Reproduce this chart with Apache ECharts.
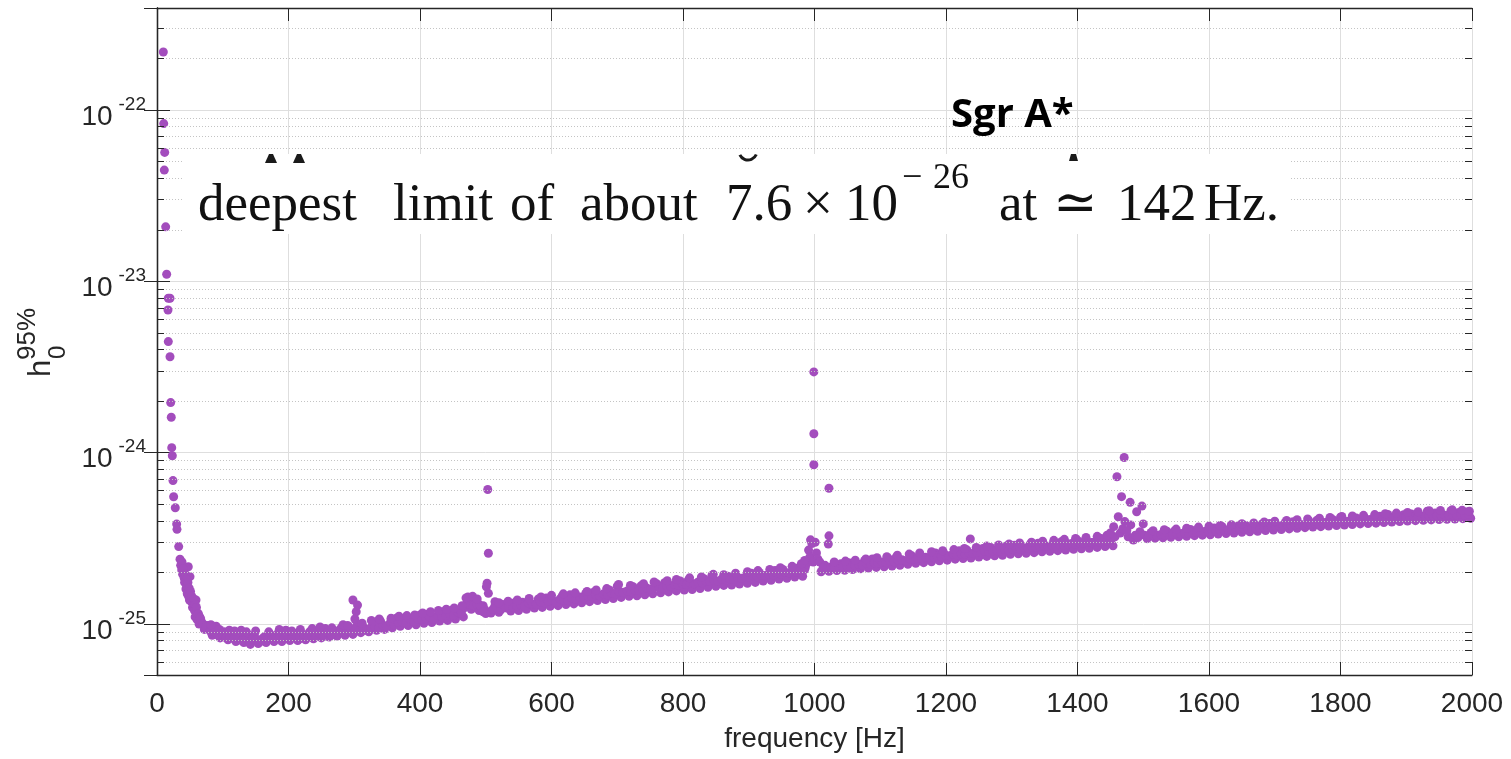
<!DOCTYPE html>
<html><head><meta charset="utf-8">
<script src="https://cdn.jsdelivr.net/npm/echarts@6/dist/echarts.min.js"></script>
<style>html,body{margin:0;padding:0;background:#fff}#c{width:1511px;height:759px}</style>
</head><body><div id="c"></div>
<script>
// h0 values are given (and plotted) in units of 1e-25; axis labels show the true powers of ten
const UNIT_EXP = -25;
const xTicks = [0, 200, 400, 600, 800, 1000, 1200, 1400, 1600, 1800, 2000];
const yDecades = [-25, -24, -23, -22];

const lowFreq = [[9.6,2180],[10.2,833],[11.7,566],[11.1,446],[13.2,208],[14.7,110],[17.2,79.7],[19.8,79.7],[16.7,68],[17.2,44.5],[19.8,36.3],[20.8,19.6],[21.7,16.1],[22.4,10.7],[23.3,9.6],[24.3,6.87],[25.3,5.53],[27.8,4.77],[29.9,3.83],[30.4,3.57],[33,2.83],[35,2.39],[36,2.2],[37.6,2.07],[39,1.95],[41.5,1.85],[42,1.75],[44,1.6],[45.3,1.65],[46,1.5],[47.6,2.16],[48,1.45],[50.2,1.89],[49.3,1.38],[52,1.35],[54,1.25],[55.3,1.31],[57,1.2],[58,1.1],[59.3,1.38],[60.3,1.155],[61,1.06],[62,1.12],[64,1.0],[38,2.3],[40,2.1],[43,1.95],[45,1.82],[47,1.75],[49,1.62],[51,1.55],[53,1.45],[56,1.4],[58,1.3],[60,1.25],[63,1.15],[65,1.1],[67,1.05],[70,1.0],[74,0.98]];

const bandA = [[66,1.08],[72,0.93],[78,0.98],[84,0.86],[90,0.97],[96,0.83],[102,0.90],[108,0.81],[114,0.85],[120,0.79],[126,0.88],[128,0.92],[132,0.78],[138,0.87],[142,0.76],[148,0.86],[154,0.77],[160,0.82],[166,0.78],[172,0.87],[178,0.79],[184,0.88],[190,0.79],[196,0.92],[202,0.80],[208,0.88],[214,0.80],[220,0.85],[226,0.81],[232,0.90],[238,0.82],[244,0.91],[250,0.83],[256,0.94],[262,0.84],[268,0.88],[274,0.85],[280,0.95],[286,0.86],[292,0.96],[298,0.87],[304,0.98],[310,0.89],[316,0.94],[322,0.90],[328,1.02],[334,0.92],[340,1.04],[346,0.93],[352,0.98],[358,0.95],[364,1.08],[370,0.97],[376,1.08],[382,0.98],[388,1.04],[394,0.99],[400,1.13],[406,1.01],[412,1.14],[418,1.02],[424,1.09],[430,1.04],[436,1.18],[442,1.05],[448,1.20],[454,1.07],[460,1.15],[466,1.10],[472,1.36],[478,1.22],[484,1.38],[490,1.20],[496,1.28],[500,1.15]];
const fillA = [[69,1.00],[75,0.96],[81,0.91],[87,0.90],[93,0.86],[99,0.87],[105,0.83],[111,0.84],[117,0.82],[123,0.84],[129,0.80],[135,0.82],[141,0.80],[145,0.82],[151,0.81],[157,0.79],[163,0.84],[169,0.81],[175,0.83],[181,0.82],[187,0.85],[193,0.82],[199,0.84],[205,0.83],[211,0.86],[217,0.82],[223,0.87],[229,0.84],[235,0.86],[241,0.85],[247,0.88],[253,0.86],[259,0.89],[265,0.86],[271,0.91],[277,0.88],[283,0.90],[289,0.91],[295,0.90],[301,0.93],[307,0.91],[313,0.96],[319,0.92],[325,0.95],[331,0.97],[337,0.95],[343,0.99],[349,0.97],[355,1.02],[361,0.99],[367,1.02],[373,1.03],[379,1.01],[385,1.06],[391,1.03],[397,1.07],[403,1.06],[409,1.08],[415,1.10],[421,1.06],[427,1.12],[433,1.10],[439,1.12],[445,1.15],[451,1.12],[457,1.18],[463,1.16],[469,1.25],[475,1.30],[481,1.28],[487,1.30],[493,1.24],[499,1.21]];

const spike300 = [[298,1.38],[305,1.29],[303,1.18],[301,1.07]];
const spike500 = [[503,6.1],[504,2.59],[502,1.73],[501,1.65],[504,1.51],[514,1.35],[473,1.44],[491,1.29],[496,1.18]];

const bandB = [[508,1.16],[514,1.28],[520,1.17],[526,1.30],[532,1.24],[538,1.19],[544,1.33],[550,1.20],[556,1.34],[562,1.22],[568,1.30],[574,1.24],[580,1.40],[586,1.25],[592,1.42],[598,1.27],[604,1.35],[610,1.28],[616,1.45],[622,1.30],[628,1.48],[634,1.31],[640,1.40],[646,1.33],[652,1.51],[658,1.35],[664,1.53],[670,1.37],[676,1.46],[682,1.39],[688,1.58],[694,1.41],[700,1.66],[706,1.43],[712,1.52],[718,1.45],[724,1.65],[730,1.46],[736,1.67],[742,1.48],[748,1.58],[754,1.50],[760,1.72],[766,1.52],[772,1.74],[778,1.54],[784,1.65],[790,1.56],[796,1.78],[802,1.58],[808,1.80],[814,1.59],[820,1.70],[826,1.61],[832,1.84],[838,1.64],[844,1.92],[850,1.66],[856,1.77],[862,1.68],[868,1.90],[874,1.69],[880,1.93],[886,1.71],[892,1.83],[898,1.73],[904,1.98],[910,1.75],[916,2.00],[922,1.78],[928,1.90],[934,1.80],[940,2.05],[946,1.83],[952,2.08],[958,1.85],[964,1.97],[970,1.88],[976,2.13],[982,1.90],[986,2.14]];
const fillB = [[511,1.22],[517,1.24],[523,1.21],[529,1.27],[535,1.26],[541,1.25],[547,1.28],[553,1.30],[559,1.27],[565,1.33],[571,1.31],[577,1.30],[583,1.35],[589,1.33],[595,1.36],[601,1.38],[607,1.34],[613,1.40],[619,1.38],[625,1.37],[631,1.42],[637,1.40],[643,1.44],[649,1.42],[655,1.46],[661,1.45],[667,1.48],[673,1.46],[679,1.50],[685,1.48],[691,1.52],[697,1.50],[703,1.54],[709,1.53],[715,1.56],[721,1.54],[727,1.58],[733,1.57],[739,1.59],[745,1.62],[751,1.60],[757,1.63],[763,1.65],[769,1.62],[775,1.67],[781,1.66],[787,1.70],[793,1.68],[799,1.72],[805,1.70],[811,1.74],[817,1.72],[823,1.76],[829,1.74],[835,1.78],[841,1.77],[847,1.80],[853,1.78],[859,1.83],[865,1.81],[871,1.84],[877,1.82],[883,1.87],[889,1.85],[895,1.88],[901,1.87],[907,1.91],[913,1.89],[919,1.93],[925,1.92],[931,1.95],[937,1.94],[943,1.98],[949,1.96],[955,2.00],[961,1.99],[967,2.03],[973,2.01],[979,2.05],[985,2.08]];

const spike1000 = [[999,29.6],[999,12.9],[999,8.5],[1001,3.0],[994,3.1],[996,2.95],[991,2.7],[993,2.46],[1003,2.6],[998,2.3],[1005,2.4],[1022,6.2],[1022,3.27],[1021,2.93],[988,2.25],[1008,2.3]];

const bandC = [[1010,2.02],[1016,2.20],[1022,2.03],[1028,2.12],[1034,2.05],[1040,2.25],[1046,2.06],[1052,2.28],[1058,2.08],[1064,2.18],[1070,2.10],[1076,2.34],[1082,2.12],[1088,2.40],[1094,2.14],[1100,2.26],[1106,2.16],[1112,2.42],[1118,2.18],[1124,2.45],[1130,2.20],[1136,2.34],[1142,2.23],[1148,2.50],[1154,2.26],[1160,2.53],[1166,2.28],[1172,2.42],[1178,2.31],[1184,2.60],[1190,2.34],[1196,2.62],[1202,2.36],[1208,2.50],[1214,2.39],[1220,2.68],[1226,2.41],[1232,2.70],[1237,3.14],[1238,2.43],[1244,2.58],[1250,2.46],[1256,2.76],[1262,2.48],[1268,2.80],[1274,2.50],[1280,2.66],[1286,2.52],[1292,2.85],[1298,2.55],[1304,2.88],[1310,2.57],[1316,2.72],[1322,2.59],[1328,2.92],[1334,2.61],[1340,2.96],[1346,2.64],[1352,2.80],[1358,2.66],[1364,3.00],[1370,2.68],[1376,3.03],[1382,2.70],[1388,2.88],[1394,2.73],[1400,3.08],[1406,2.75],[1412,3.10],[1418,2.77],[1424,2.95],[1430,2.80],[1436,3.16],[1442,2.83],[1448,3.20],[1454,2.86]];
const fillC = [[1013,2.12],[1019,2.10],[1025,2.15],[1031,2.13],[1037,2.16],[1043,2.14],[1049,2.19],[1055,2.17],[1061,2.21],[1067,2.23],[1073,2.20],[1079,2.26],[1085,2.24],[1091,2.28],[1097,2.27],[1103,2.30],[1109,2.28],[1115,2.33],[1121,2.31],[1127,2.35],[1133,2.37],[1139,2.34],[1145,2.40],[1151,2.38],[1157,2.42],[1163,2.41],[1169,2.45],[1175,2.44],[1181,2.47],[1187,2.49],[1193,2.47],[1199,2.52],[1205,2.50],[1211,2.55],[1217,2.53],[1223,2.57],[1229,2.56],[1235,2.60],[1241,2.58],[1247,2.63],[1253,2.61],[1259,2.66],[1265,2.64],[1271,2.68],[1277,2.70],[1283,2.67],[1289,2.72],[1295,2.71],[1301,2.74],[1307,2.76],[1313,2.73],[1319,2.79],[1325,2.77],[1331,2.81],[1337,2.80],[1343,2.83],[1349,2.86],[1355,2.84],[1361,2.88],[1367,2.86],[1373,2.91],[1379,2.89],[1385,2.93],[1391,2.95],[1397,2.92],[1403,2.98],[1409,2.96],[1415,3.00],[1421,2.99],[1427,3.03],[1433,3.01],[1439,3.06],[1445,3.05],[1451,3.08]];

const spike1470 = [[1460,7.24],[1471,9.37],[1467,5.54],[1480,5.13],[1498,4.88],[1490,4.52],[1462,4.23],[1500,3.84],[1481,3.79],[1472,3.96],[1477,3.23],[1485,3.09],[1455,3.7],[1457,3.23],[1495,3.46],[1465,3.4],[1469,3.6],[1488,3.3],[1475,3.5],[1492,3.2],[1502,3.3]];

const bandD = [[1506,3.15],[1512,3.42],[1518,3.17],[1524,3.30],[1530,3.19],[1536,3.48],[1542,3.21],[1548,3.50],[1554,3.23],[1560,3.38],[1566,3.25],[1572,3.56],[1578,3.28],[1584,3.60],[1590,3.30],[1596,3.46],[1602,3.32],[1608,3.64],[1614,3.35],[1620,3.70],[1626,3.37],[1632,3.55],[1638,3.40],[1644,3.73],[1650,3.43],[1656,3.76],[1662,3.45],[1668,3.63],[1674,3.48],[1680,3.82],[1686,3.51],[1692,3.86],[1698,3.54],[1704,3.72],[1710,3.56],[1716,3.92],[1722,3.59],[1728,3.95],[1734,3.62],[1740,3.80],[1746,3.65],[1752,4.00],[1758,3.68],[1764,4.03],[1770,3.70],[1776,3.90],[1782,3.73],[1788,4.08],[1794,3.76],[1800,4.20],[1806,3.78],[1812,3.98],[1818,3.81],[1824,4.16],[1830,3.84],[1836,4.20],[1842,3.86],[1848,4.05],[1854,3.88],[1860,4.25],[1866,3.91],[1872,4.36],[1878,3.94],[1884,4.14],[1890,3.96],[1896,4.34],[1902,3.99],[1908,4.38],[1914,4.01],[1920,4.22],[1926,4.03],[1932,4.55],[1938,4.05],[1944,4.44],[1950,4.07],[1956,4.28],[1962,4.09],[1968,4.58],[1974,4.10],[1980,4.48],[1986,4.12],[1992,4.50],[1998,4.14]];
const fillD = [[1509,3.28],[1515,3.30],[1521,3.26],[1527,3.33],[1533,3.31],[1539,3.35],[1545,3.33],[1551,3.37],[1557,3.36],[1563,3.40],[1569,3.38],[1575,3.42],[1581,3.44],[1587,3.41],[1593,3.47],[1599,3.45],[1605,3.49],[1611,3.48],[1617,3.52],[1623,3.50],[1629,3.55],[1635,3.53],[1641,3.58],[1647,3.56],[1653,3.60],[1659,3.62],[1665,3.59],[1671,3.65],[1677,3.63],[1683,3.68],[1689,3.66],[1695,3.71],[1701,3.69],[1707,3.74],[1713,3.72],[1719,3.77],[1725,3.75],[1731,3.79],[1737,3.81],[1743,3.78],[1749,3.84],[1755,3.82],[1761,3.87],[1767,3.85],[1773,3.89],[1779,3.92],[1785,3.88],[1791,3.95],[1797,3.93],[1803,3.97],[1809,3.95],[1815,4.00],[1821,3.98],[1827,4.03],[1833,4.01],[1839,4.05],[1845,4.08],[1851,4.04],[1857,4.10],[1863,4.08],[1869,4.13],[1875,4.11],[1881,4.15],[1887,4.18],[1893,4.14],[1899,4.20],[1905,4.18],[1911,4.22],[1917,4.20],[1923,4.25],[1929,4.23],[1935,4.27],[1941,4.25],[1947,4.30],[1953,4.28],[1959,4.32],[1965,4.30],[1971,4.34],[1977,4.32],[1983,4.36],[1989,4.33],[1995,4.37]];

// scattered points sitting above the main band
const upperScatter = [[82,0.99],[95,0.93],[110,0.92],[118,0.91],[136,0.90],[150,0.91],[170,0.90],[186,0.93],[205,0.91],[218,0.93],[236,0.94],[248,0.96],[266,0.95],[283,0.99],[290,0.98],[312,1.01],[326,1.05],[338,1.07],[356,1.08],[368,1.11],[380,1.12],[392,1.13],[404,1.16],[416,1.18],[428,1.20],[440,1.22],[452,1.24],[464,1.28],[470,1.42],[480,1.45],[487,1.40],[520,1.33],[534,1.36],[548,1.38],[566,1.41],[584,1.44],[600,1.47],[618,1.50],[636,1.52],[654,1.55],[668,1.58],[684,1.61],[702,1.70],[720,1.68],[740,1.72],[756,1.76],[776,1.79],[790,1.82],[810,1.86],[828,1.88],[846,1.95],[862,1.94],[880,1.98],[898,2.02],[914,2.05],[932,2.08],[948,2.13],[966,2.17],[980,2.25],[985,2.35],[1030,2.30],[1047,2.33],[1062,2.36],[1078,2.40],[1095,2.44],[1110,2.47],[1126,2.52],[1144,2.56],[1160,2.60],[1178,2.64],[1195,2.68],[1212,2.72],[1228,2.76],[1246,2.80],[1262,2.85],[1280,2.89],[1296,2.93],[1312,2.97],[1330,3.00],[1347,3.04],[1364,3.08],[1380,3.12],[1397,3.16],[1413,3.20],[1430,3.25],[1445,3.30],[1450,3.40],[1515,3.50],[1532,3.55],[1550,3.58],[1566,3.62],[1584,3.68],[1600,3.72],[1617,3.76],[1634,3.80],[1650,3.85],[1668,3.89],[1684,3.94],[1700,3.98],[1718,4.02],[1734,4.06],[1750,4.10],[1768,4.14],[1784,4.19],[1802,4.24],[1818,4.27],[1835,4.31],[1852,4.35],[1868,4.40],[1885,4.44],[1902,4.48],[1918,4.52],[1935,4.58],[1952,4.60],[1970,4.64],[1985,4.62],[1996,4.55]];

const allPts = [].concat(lowFreq, bandA, fillA, spike300, spike500, bandB, fillB, spike1000, bandC, fillC, spike1470, bandD, fillD, upperScatter);

const YMIN = 0.504, YMAX = 3940;   // in units of 1e-25
const TXT = '#262626';
const SANS = '"Liberation Sans", Arial, Helvetica, sans-serif';
const SERIF = '"Liberation Serif", "DejaVu Serif", serif';

// minor gridlines at 2..9 x 10^k
const minorVals = [];
for (let k = -1; k <= 3; k++) for (let m = 2; m <= 9; m++) {
  const v = m * Math.pow(10, k);
  if (v > YMIN && v < YMAX) minorVals.push(v);
}
const minorGrid = minorVals.map(v => ({ yAxis: v }));
const minorTicks = [];
minorVals.forEach(v => {
  minorTicks.push([{ coord: [0, v] }, { coord: [10.6, v] }]);
  minorTicks.push([{ coord: [1989.4, v] }, { coord: [2000, v] }]);
});

const chart = echarts.init(document.getElementById('c'), null, { renderer: 'canvas' });

function serifWord(text, x, baseline, size) {
  return {
    type: 'text', z: 102,
    style: { text: text, x: x, y: baseline - 0.3375 * size, fill: '#111',
      font: size + 'px ' + SERIF, align: 'left', verticalAlign: 'middle' }
  };
}
function foot(points) {
  return { type: 'polygon', z: 102, shape: { points: points }, style: { fill: '#1a1a1a' } };
}

const option = {
  animation: false,
  backgroundColor: '#ffffff',
  grid: { left: 157, right: 39, top: 8, bottom: 84 },
  xAxis: [{
    type: 'value', min: 0, max: 2000, interval: 200, position: 'bottom',
    axisLine: { show: true, onZero: false, lineStyle: { color: TXT, width: 1.3 } },
    axisTick: { show: true, inside: true, length: 13, lineStyle: { color: TXT, width: 1 } },
    axisLabel: { fontFamily: SANS, fontSize: 28, color: TXT, margin: 15,
      formatter: v => xTicks.indexOf(v) >= 0 ? String(v) : '' },
    splitLine: { show: true, lineStyle: { color: '#dedede', width: 1 } },
    name: 'frequency [Hz]', nameLocation: 'middle', nameGap: 50,
    nameTextStyle: { fontFamily: SANS, fontSize: 28, color: TXT }
  }, {
    type: 'value', min: 0, max: 2000, interval: 200, position: 'top',
    axisLine: { show: true, onZero: false, lineStyle: { color: TXT, width: 1.3 } },
    axisTick: { show: true, inside: true, length: 13, lineStyle: { color: TXT, width: 1 } },
    axisLabel: { show: false }, splitLine: { show: false }
  }],
  yAxis: [{
    type: 'log', logBase: 10, min: YMIN, max: YMAX, position: 'left',
    axisLine: { show: true, lineStyle: { color: TXT, width: 1.3 } },
    axisTick: { show: true, inside: true, length: 13, lineStyle: { color: TXT, width: 1 } },
    axisLabel: {
      margin: 11,
      formatter: v => {
        const lg = Math.log10(v); const r = Math.round(lg);
        const e = r + UNIT_EXP;
        if (Math.abs(lg - r) > 1e-6 || yDecades.indexOf(e) < 0) return '';
        return '{b|10}{s|' + e + '}';
      },
      rich: {
        b: { fontFamily: SANS, fontSize: 28, color: TXT, lineHeight: 42, verticalAlign: 'bottom' },
        s: { fontFamily: SANS, fontSize: 19, color: TXT, verticalAlign: 'top', padding: [6, 0, 0, 6] }
      }
    },
    splitLine: { show: true, lineStyle: { color: '#dedede', width: 1 } }
  }, {
    type: 'log', logBase: 10, min: YMIN, max: YMAX, position: 'right',
    axisLine: { show: true, lineStyle: { color: TXT, width: 1.3 } },
    axisTick: { show: true, inside: true, length: 13, lineStyle: { color: TXT, width: 1 } },
    axisLabel: { show: false }, splitLine: { show: false }
  }],
  series: [{
    type: 'line', data: [], xAxisIndex: 0, yAxisIndex: 0, z: 1, silent: true,
    markLine: { silent: true, symbol: 'none', animation: false, label: { show: false },
      lineStyle: { color: '#c4c4c4', width: 1, type: [1, 2] }, data: minorGrid }
  }, {
    type: 'line', data: [], xAxisIndex: 0, yAxisIndex: 0, z: 1, silent: true,
    markLine: { silent: true, symbol: 'none', animation: false, label: { show: false },
      lineStyle: { color: TXT, width: 1, type: 'solid' }, data: minorTicks }
  }, {
    type: 'scatter', data: allPts, xAxisIndex: 0, yAxisIndex: 0, z: 3,
    symbol: 'circle', symbolSize: 9, silent: true, large: false,
    itemStyle: { color: '#a34dbd', opacity: 1 }
  }],
  graphic: [
    { type: 'rect', z: 100, shape: { x: 184, y: 154, width: 1106, height: 80 }, style: { fill: '#ffffff' } },
    foot([[265,163],[277,163],[273,154],[269,154]]),
    foot([[293,163],[305,163],[301,154],[297,154]]),
    foot([[1069,161],[1078,161],[1076,154],[1071,154]]),
    { type: 'arc', z: 102, shape: { cx: 748, cy: 151, r: 9, startAngle: 0.4, endAngle: 2.7, clockwise: true },
      style: { stroke: '#1a1a1a', lineWidth: 3, fill: null } },
    serifWord('deepest', 198, 224, 53),
    serifWord('limit', 393, 224, 53),
    serifWord('of', 510, 224, 53),
    serifWord('about', 580, 224, 53),
    serifWord('7.6', 726, 224, 53),
    serifWord('\u00d7', 803, 224, 53),
    serifWord('10', 845, 224, 53),
    serifWord('\u2212', 902, 191, 36),
    serifWord('26', 933, 191, 36),
    serifWord('at', 999, 224, 53),
    serifWord('\u2243', 1053, 224, 53),
    serifWord('142', 1117, 224, 53),
    serifWord('Hz.', 1204, 224, 53),
    { type: 'text', z: 102, style: { text: 'Sgr A*', x: 951, y: 131 - 0.388 * 40, fill: '#000',
      font: 'bold 40px "Open Sans", sans-serif', align: 'left', verticalAlign: 'middle' } },
    { type: 'group', x: 52, y: 377, rotation: Math.PI / 2, z: 102, children: [
      { type: 'text', style: { text: 'h', x: 0, y: -0.3465 * 31, fill: TXT, font: '31px ' + SANS, align: 'left', verticalAlign: 'middle' } },
      { type: 'text', style: { text: '0', x: 18, y: 15 - 0.3465 * 24, fill: TXT, font: '24px ' + SANS, align: 'left', verticalAlign: 'middle' } },
      { type: 'text', style: { text: '95%', x: 17, y: -15 - 0.3465 * 26, fill: TXT, font: '26px ' + SANS, align: 'left', verticalAlign: 'middle' } }
    ] }
  ]
};
chart.setOption(option);
</script></body></html>
